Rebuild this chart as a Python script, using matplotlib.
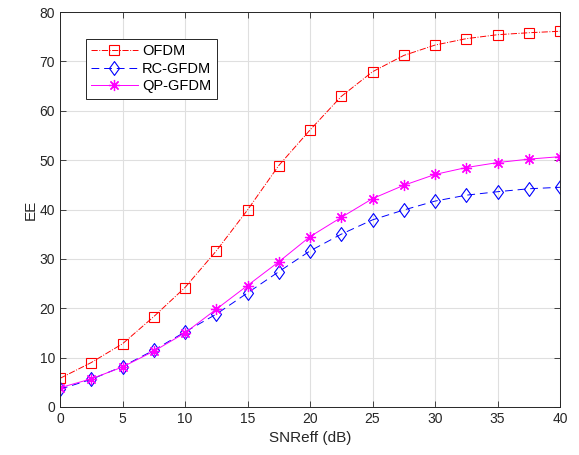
import matplotlib
matplotlib.use("Agg")
import matplotlib.pyplot as plt
from matplotlib.path import Path

plt.rcParams['font.family'] = ['Liberation Sans', 'DejaVu Sans']

snr = [0, 2.5, 5, 7.5, 10, 12.5, 15, 17.5, 20, 22.5, 25, 27.5, 30, 32.5, 35, 37.5, 40]
ofdm = [5.8, 9.0, 12.8, 18.3, 24.2, 31.6, 39.9, 48.9, 56.1, 62.9, 67.9, 71.2, 73.3, 74.6, 75.4, 75.8, 76.1]
rc_gfdm = [3.6, 5.6, 8.2, 11.5, 15.2, 18.8, 23.1, 27.4, 31.6, 35.0, 37.9, 39.9, 41.7, 42.9, 43.6, 44.2, 44.5]
qp_gfdm = [3.9, 5.7, 8.1, 11.3, 15.0, 19.8, 24.6, 29.4, 34.5, 38.4, 42.2, 44.9, 47.1, 48.5, 49.5, 50.2, 50.7]

diamond = Path([(0, 1), (0.72, 0), (0, -1), (-0.72, 0), (0, 1)],
               [Path.MOVETO, Path.LINETO, Path.LINETO, Path.LINETO, Path.CLOSEPOLY])

fig = plt.figure(figsize=(5.79, 4.55), dpi=100)
ax = fig.add_axes([60/579, 48/455, 500/579, 395/455])

ax.plot(snr, ofdm, color='#ff0000', linestyle='-.', linewidth=0.7, marker='s',
        markersize=7, markerfacecolor='none', markeredgewidth=0.8, label='OFDM')
ax.plot(snr, rc_gfdm, color='#0000ff', linestyle=(0, (8, 5)), linewidth=0.7, marker=diamond,
        markersize=10, markerfacecolor='none', markeredgewidth=0.8, label='RC-GFDM')
ax.plot(snr, qp_gfdm, color='#ff00ff', linestyle='-', linewidth=0.7, marker=(8, 2, 0),
        markersize=8, markeredgewidth=0.9, label='QP-GFDM')

ax.set_xlim(0, 40)
ax.set_ylim(0, 80)
ax.set_xticks(range(0, 41, 5))
ax.set_yticks(range(0, 81, 10))
ax.grid(True, color='#dfdfdf', linewidth=0.8)
ax.set_axisbelow(True)
ax.tick_params(direction='in', length=4, width=0.6, labelsize=10, colors='#262626',
               top=True, right=True)
for s in ax.spines.values():
    s.set_linewidth(0.7)
    s.set_color('#262626')
ax.set_xlabel('SNReff (dB)', fontsize=11, color='#262626')
ax.set_ylabel('EE', fontsize=11, color='#262626', labelpad=1)

leg = ax.legend(loc='upper left', bbox_to_anchor=(26/500, 1 - 27/395), fontsize=10.5,
                fancybox=False, edgecolor='#262626', framealpha=1, borderaxespad=0,
                handlelength=3.2, labelspacing=0.25, borderpad=0.35, handletextpad=0.3)
leg.get_frame().set_linewidth(0.7)

fig.savefig('out.png', dpi=100)
